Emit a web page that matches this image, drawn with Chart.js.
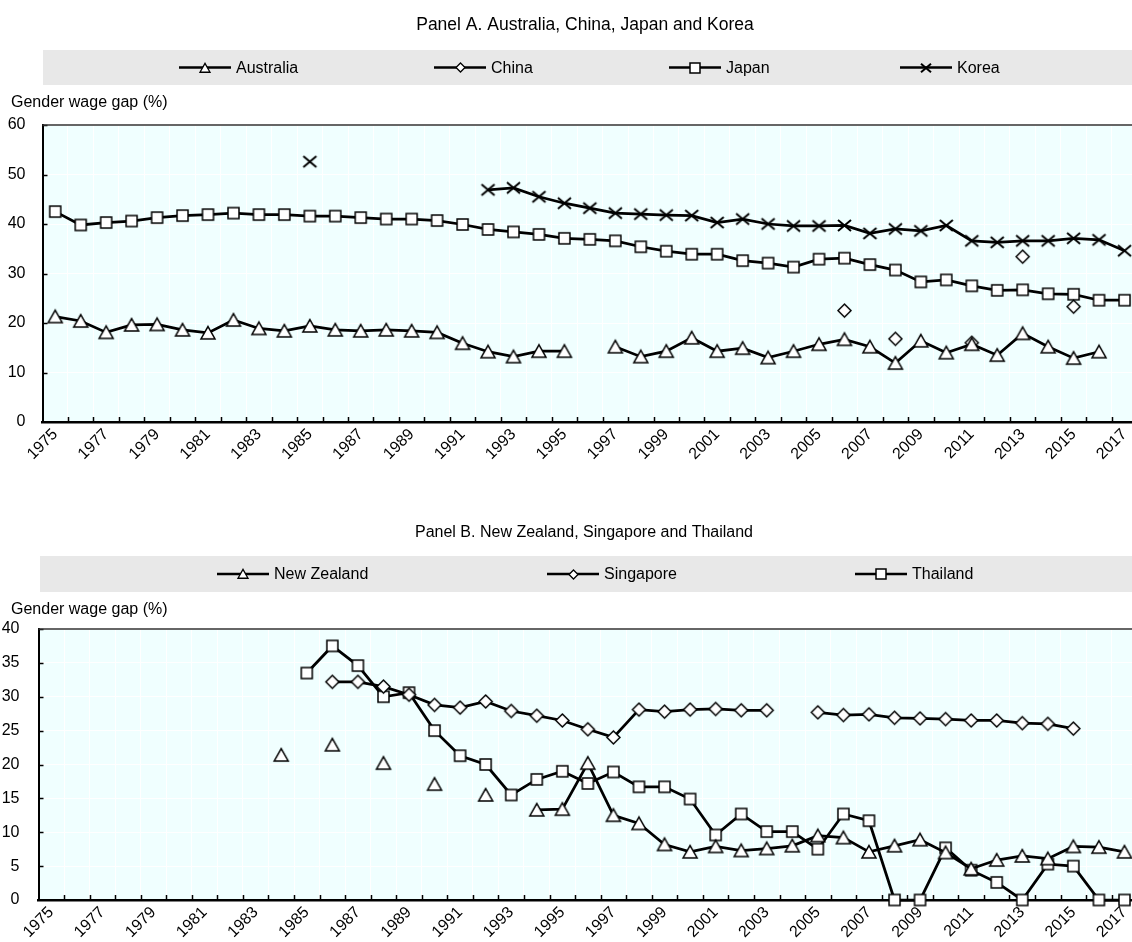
<!DOCTYPE html>
<html>
<head>
<meta charset="utf-8">
<script src="https://cdn.jsdelivr.net/npm/chart.js@4.4.1/dist/chart.umd.min.js"></script>
<style>
  html, body { margin: 0; padding: 0; background: #fff; width: 1132px; height: 942px; overflow: hidden; }
  canvas { position: absolute; left: 0; }
  #panelA { top: 0; }
  #panelB { top: 490px; }
</style>
</head>
<body>
<canvas id="panelA" width="1146" height="470"></canvas>
<canvas id="panelB" width="1146" height="452"></canvas>
<script>
// ── data ────────────────────────────────────────────────────────────
const YEARS = ['1975', '1976', '1977', '1978', '1979', '1980', '1981', '1982', '1983', '1984',
  '1985', '1986', '1987', '1988', '1989', '1990', '1991', '1992', '1993', '1994',
  '1995', '1996', '1997', '1998', '1999', '2000', '2001', '2002', '2003', '2004',
  '2005', '2006', '2007', '2008', '2009', '2010', '2011', '2012', '2013', '2014',
  '2015', '2016', '2017'];

// Panel A
const AUSTRALIA = [21.3, 20.4, 18.1, 19.6, 19.7, 18.6, 18.0, 20.6, 18.9, 18.4,
  19.4, 18.6, 18.4, 18.6, 18.4, 18.1, 15.9, 14.2, 13.2, 14.3,
  14.3, null, 15.2, 13.2, 14.3, 17.0, 14.3, 14.9, 13.0, 14.3,
  15.7, 16.7, 15.2, 11.9, 16.4, 14.0, 15.7, 13.5, 17.9, 15.2,
  12.9, 14.2, null];
const CHINA = [null, null, null, null, null, null, null, null, null, null,
  null, null, null, null, null, null, null, null, null, null,
  null, null, null, null, null, null, null, null, null, null,
  null, 22.5, null, 16.8, null, null, 16.0, null, 33.4, null,
  23.3, null, null];
const JAPAN = [42.5, 39.8, 40.3, 40.6, 41.3, 41.7, 41.9, 42.2, 41.9, 41.9,
  41.6, 41.6, 41.3, 41.0, 41.0, 40.7, 39.9, 38.9, 38.4, 37.9,
  37.1, 36.9, 36.6, 35.4, 34.5, 33.9, 33.9, 32.6, 32.1, 31.3,
  32.9, 33.1, 31.8, 30.7, 28.3, 28.7, 27.5, 26.6, 26.7, 25.9,
  25.8, 24.6, 24.6];
const KOREA = [null, null, null, null, null, null, null, null, null, null,
  52.6, null, null, null, null, null, null, 46.9, 47.3, 45.5,
  44.2, 43.2, 42.2, 42.0, 41.8, 41.7, 40.3, 41.0, 40.0, 39.6,
  39.6, 39.7, 38.1, 39.0, 38.6, 39.7, 36.6, 36.3, 36.6, 36.6,
  37.1, 36.8, 34.6];

// Panel B
const NEW_ZEALAND = [null, null, null, null, null, null, null, null, null, 21.4,
  null, 22.9, null, 20.2, null, 17.1, null, 15.5, null, 13.3,
  13.4, 20.2, 12.5, 11.3, 8.2, 7.1, 7.9, 7.3, 7.6, 8.0,
  9.5, 9.2, 7.1, 8.0, 8.9, 7.0, 4.6, 5.9, 6.5, 6.1,
  7.9, 7.8, 7.1];
const SINGAPORE = [null, null, null, null, null, null, null, null, null, null,
  null, 32.2, 32.2, 31.5, 30.3, 28.8, 28.4, 29.3, 27.9, 27.2,
  26.5, 25.2, 24.0, 28.1, 27.8, 28.1, 28.2, 28.0, 28.0, null,
  27.7, 27.3, 27.4, 26.9, 26.8, 26.7, 26.5, 26.5, 26.1, 26.0,
  25.3, null, null];
const THAILAND = [null, null, null, null, null, null, null, null, null, null,
  33.5, 37.5, 34.6, 30.0, 30.6, 25.0, 21.3, 20.0, 15.5, 17.8,
  19.0, 17.2, 18.9, 16.7, 16.7, 14.9, 9.6, 12.7, 10.1, 10.1,
  7.5, 12.7, 11.7, 0, 0, 7.7, 4.4, 2.6, 0, 5.3,
  5.0, 0, 0];

// ── fonts: narrow Arial-like face if present, otherwise regular ────
function hasFont(name) {
  const g = document.createElement('canvas').getContext('2d');
  g.font = '20px monospace';
  const a = g.measureText('Gender wage gap (%)').width;
  g.font = '20px "' + name + '", monospace';
  return g.measureText('Gender wage gap (%)').width !== a;
}
const NARROW = hasFont('Liberation Sans Narrow');
const FAMILY = NARROW ? '"Liberation Sans Narrow", "Arial Narrow", sans-serif' : '"Liberation Sans", Arial, sans-serif';
const FSIZE = NARROW ? 19 : 16;
const FONT = FSIZE + 'px ' + FAMILY;
const K = NARROW ? 19 / 16 : 1;

// ── markers as small canvases so they sit centred on the value ──────
function marker(kind, s, lw) {
  const pad = 3, n = Math.ceil(s + pad * 2);
  const c = document.createElement('canvas');
  c.width = n; c.height = n;
  const g = c.getContext('2d');
  const m = n / 2, h = s / 2;
  g.strokeStyle = '#000';
  g.fillStyle = '#fff';
  g.lineWidth = lw;
  g.beginPath();
  if (kind === 'square') g.rect(m - h, m - h, s, s);
  if (kind === 'diamond') { g.moveTo(m, m - h); g.lineTo(m + h, m); g.lineTo(m, m + h); g.lineTo(m - h, m); g.closePath(); }
  if (kind === 'triangle') { g.moveTo(m, m - h * 0.92); g.lineTo(m + h, m + h * 0.85); g.lineTo(m - h, m + h * 0.85); g.closePath(); }
  if (kind === 'cross') {
    g.moveTo(m - h, m - h * 0.85); g.lineTo(m + h, m + h * 0.85);
    g.moveTo(m + h, m - h * 0.85); g.lineTo(m - h, m + h * 0.85);
    g.stroke();
    return c;
  }
  g.fill();
  g.stroke();
  return c;
}
const MARK = {
  square: marker('square', 11, 1.5), diamond: marker('diamond', 13, 1.5),
  triangle: marker('triangle', 14, 1.5), cross: marker('cross', 13, 2),
};
const LEG_MARK = {
  square: marker('square', 10, 1.5), diamond: marker('diamond', 9, 1.3),
  triangle: marker('triangle', 10, 1.3), cross: marker('cross', 10, 2),
};

// ── title, legend band, background, inward ticks, top border ───────
function panelPlugin(cfg) {
  return {
    id: 'panel',
    beforeDraw(chart) {
      const { ctx, chartArea: a } = chart;
      ctx.save();
      ctx.fillStyle = '#f0ffff';
      ctx.fillRect(a.left, a.top, a.right - a.left, a.bottom - a.top);

      ctx.font = (cfg.titleSize * K) + 'px ' + FAMILY;
      ctx.fillStyle = '#000';
      ctx.textBaseline = 'middle';
      ctx.textAlign = 'center';
      ctx.fillText(cfg.title, cfg.titleX, cfg.titleY);

      ctx.font = FONT;
      ctx.fillStyle = '#e8e8e8';
      ctx.fillRect(cfg.band.left, cfg.band.top, chart.width - cfg.band.left, cfg.band.height);
      const ly = cfg.band.top + cfg.band.height / 2;
      cfg.series.forEach((s, i) => {
        const x0 = cfg.legendX[i];
        ctx.strokeStyle = '#000';
        ctx.lineWidth = 2.5;
        ctx.beginPath();
        ctx.moveTo(x0, ly);
        ctx.lineTo(x0 + 52, ly);
        ctx.stroke();
        const img = LEG_MARK[s.mark];
        ctx.drawImage(img, Math.round(x0 + 26 - img.width / 2), Math.round(ly - img.height / 2));
        ctx.fillStyle = '#000';
        ctx.textAlign = 'left';
        ctx.fillText(s.name, x0 + 57, ly + 1);
      });

      ctx.textAlign = 'left';
      ctx.fillText('Gender wage gap (%)', 11, a.top - cfg.yTitleGap);
      ctx.restore();
    },
    beforeDatasetsDraw(chart) {
      const { ctx, chartArea: a, scales } = chart;
      const xs = scales.x, ys = scales.y;
      const half = (xs.getPixelForValue(1) - xs.getPixelForValue(0)) / 2;
      ctx.save();
      ctx.strokeStyle = '#000';
      ctx.lineWidth = 1.5;
      ctx.beginPath();
      for (let i = 1; i < YEARS.length; i++) {
        const x = Math.round(xs.getPixelForValue(i) - half) + 0.5;
        ctx.moveTo(x, a.bottom);
        ctx.lineTo(x, a.bottom - 5);
      }
      ys.ticks.forEach((t) => {
        if (t.value === 0) return;
        const y = Math.round(ys.getPixelForValue(t.value)) + 0.5;
        ctx.moveTo(a.left, y);
        ctx.lineTo(a.left + 5, y);
      });
      ctx.stroke();
      ctx.strokeStyle = '#333';
      ctx.lineWidth = 1.5;
      ctx.beginPath();
      ctx.moveTo(a.left, a.top);
      ctx.lineTo(chart.width, a.top);
      ctx.stroke();
      ctx.restore();
    },
  };
}

function panelChart(id, cfg) {
  const cv = document.getElementById(id);
  return new Chart(cv, {
    type: 'line',
    data: {
      labels: YEARS,
      datasets: cfg.series.map((s) => ({
        label: s.name, data: s.data,
        borderColor: '#000', borderWidth: 2.75, tension: 0, spanGaps: false,
        pointStyle: MARK[s.mark], pointRadius: 6, clip: false,
      })),
    },
    options: {
      responsive: false, animation: false, events: [],
      layout: { padding: { top: cfg.area.top, right: cv.width - cfg.area.right, left: 0, bottom: 0 } },
      plugins: { legend: { display: false }, tooltip: { enabled: false } },
      scales: {
        x: {
          offset: true,
          grid: { offset: true, color: '#fff', lineWidth: 1, drawTicks: false },
          border: { color: '#000', width: 2.5 },
          ticks: {
            autoSkip: false, maxRotation: 45, minRotation: 45, padding: 3,
            color: '#000', font: { family: FAMILY, size: FSIZE },
            callback: (v, i) => (i % 2 ? '' : YEARS[i]),
          },
          afterFit: (s) => { s.height = cv.height - cfg.area.bottom; },
        },
        y: {
          min: 0, max: cfg.yMax,
          grid: { color: '#fff', lineWidth: 1, drawTicks: false },
          border: { color: '#000', width: 2 },
          ticks: { stepSize: cfg.yStep, padding: cfg.yPad, color: '#000', font: { family: FAMILY, size: FSIZE } },
          afterFit: (s) => { s.width = cfg.area.left; },
        },
      },
    },
    plugins: [panelPlugin(cfg)],
  });
}

panelChart('panelA', {
  title: 'Panel A. Australia, China, Japan and Korea', titleX: 585, titleY: 25, titleSize: 17.5,
  band: { left: 43, top: 50, height: 35 },
  legendX: [179, 434, 669, 900],
  yTitleGap: 22,
  area: { left: 42.5, top: 125, right: 1138, bottom: 422 },
  yMax: 60, yStep: 10, yPad: 17,
  series: [
    { name: 'Australia', data: AUSTRALIA, mark: 'triangle' },
    { name: 'China', data: CHINA, mark: 'diamond' },
    { name: 'Japan', data: JAPAN, mark: 'square' },
    { name: 'Korea', data: KOREA, mark: 'cross' },
  ],
});

panelChart('panelB', {
  title: 'Panel B. New Zealand, Singapore and Thailand', titleX: 584, titleY: 43, titleSize: 16,
  band: { left: 40, top: 66, height: 36 },
  legendX: [217, 547, 855],
  yTitleGap: 19,
  area: { left: 38.5, top: 139, right: 1141, bottom: 410 },
  yMax: 40, yStep: 5, yPad: 19,
  series: [
    { name: 'New Zealand', data: NEW_ZEALAND, mark: 'triangle' },
    { name: 'Singapore', data: SINGAPORE, mark: 'diamond' },
    { name: 'Thailand', data: THAILAND, mark: 'square' },
  ],
});
</script>
</body>
</html>
